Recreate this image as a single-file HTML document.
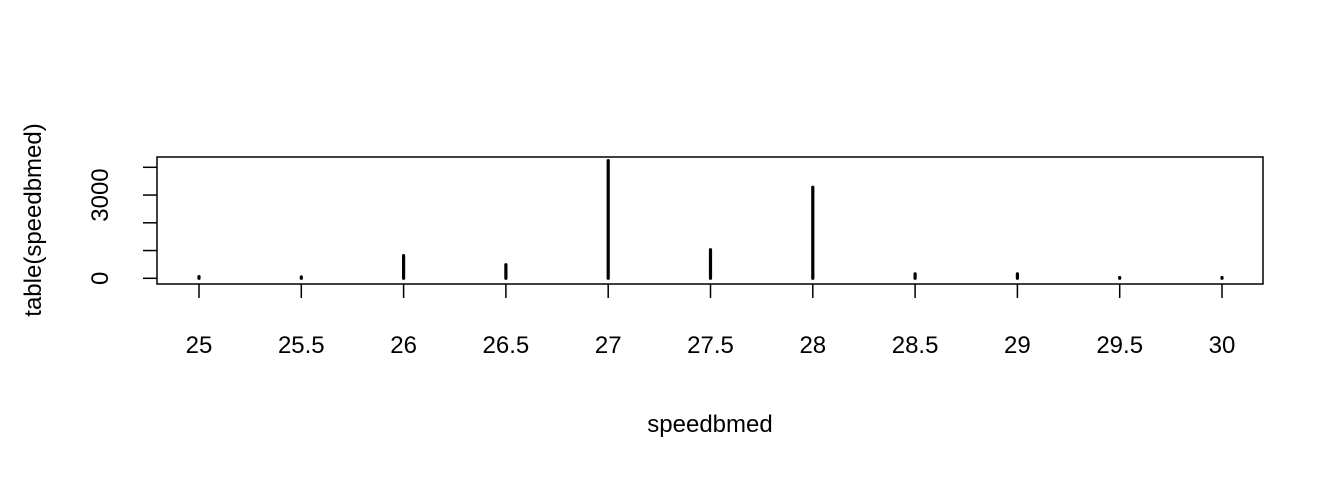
<!DOCTYPE html>
<html><head><meta charset="utf-8"><style>
body{margin:0;background:#fff;}
svg{display:block;font-family:"Liberation Sans",Arial,sans-serif;}
</style></head><body>
<svg id="chart" width="1344" height="480">
<rect x="157" y="157" width="1106" height="127" fill="none" stroke="#000" stroke-width="1.5"/>
<g id="xaxis"></g>
<g id="yaxis"></g>
<g id="bars"></g>
<text x="710" y="432" font-size="24" text-anchor="middle">speedbmed</text>
<text transform="translate(41,220) rotate(-90)" font-size="24" text-anchor="middle">table(speedbmed)</text>
</svg>
<script>
const categories=[25,25.5,26,26.5,27,27.5,28,28.5,29,29.5,30];
const counts=[60,50,820,490,4240,1030,3280,160,160,30,30];
const xTicks=["25","25.5","26","26.5","27","27.5","28","28.5","29","29.5","30"];
const yTicks=[0,1000,2000,3000,4000];
const yLabels=["0","3000"];
const NS="http://www.w3.org/2000/svg";
function X(v){return 199+(v-25)*(1222-199)/5;}
function Y(v){return 278.3-v*0.02775;}
function mk(tag,attrs,parent){const e=document.createElementNS(NS,tag);for(const k in attrs)e.setAttribute(k,attrs[k]);parent.appendChild(e);return e;}
const xa=document.getElementById('xaxis'),ya=document.getElementById('yaxis'),bg=document.getElementById('bars');
xTicks.forEach((t,i)=>{const v=parseFloat(t);
 const l=mk('line',{x1:X(v),x2:X(v),y1:284,y2:298,stroke:'#000','stroke-width':1.5},xa);
 
 
 const tx=mk('text',{x:X(v),y:353,'font-size':24,'text-anchor':'middle'},xa);tx.textContent=t;
 
 
});
yTicks.forEach(v=>{
 const l=mk('line',{x1:143,x2:157,y1:Y(v),y2:Y(v),stroke:'#000','stroke-width':1.5},ya);
 
 
});
yLabels.forEach(t=>{const v=+t;
 const tx=mk('text',{transform:`translate(108,${Y(v)}) rotate(-90)`,'font-size':24,'text-anchor':'middle'},ya);tx.textContent=t;
 
 
});
categories.forEach((c,i)=>{
 const l=mk('line',{x1:X(c),x2:X(c),y1:Y(0),y2:Y(counts[i]),stroke:'#000','stroke-width':3.2,'stroke-linecap':'round'},bg);
 
 
});
</script>
</body></html>
